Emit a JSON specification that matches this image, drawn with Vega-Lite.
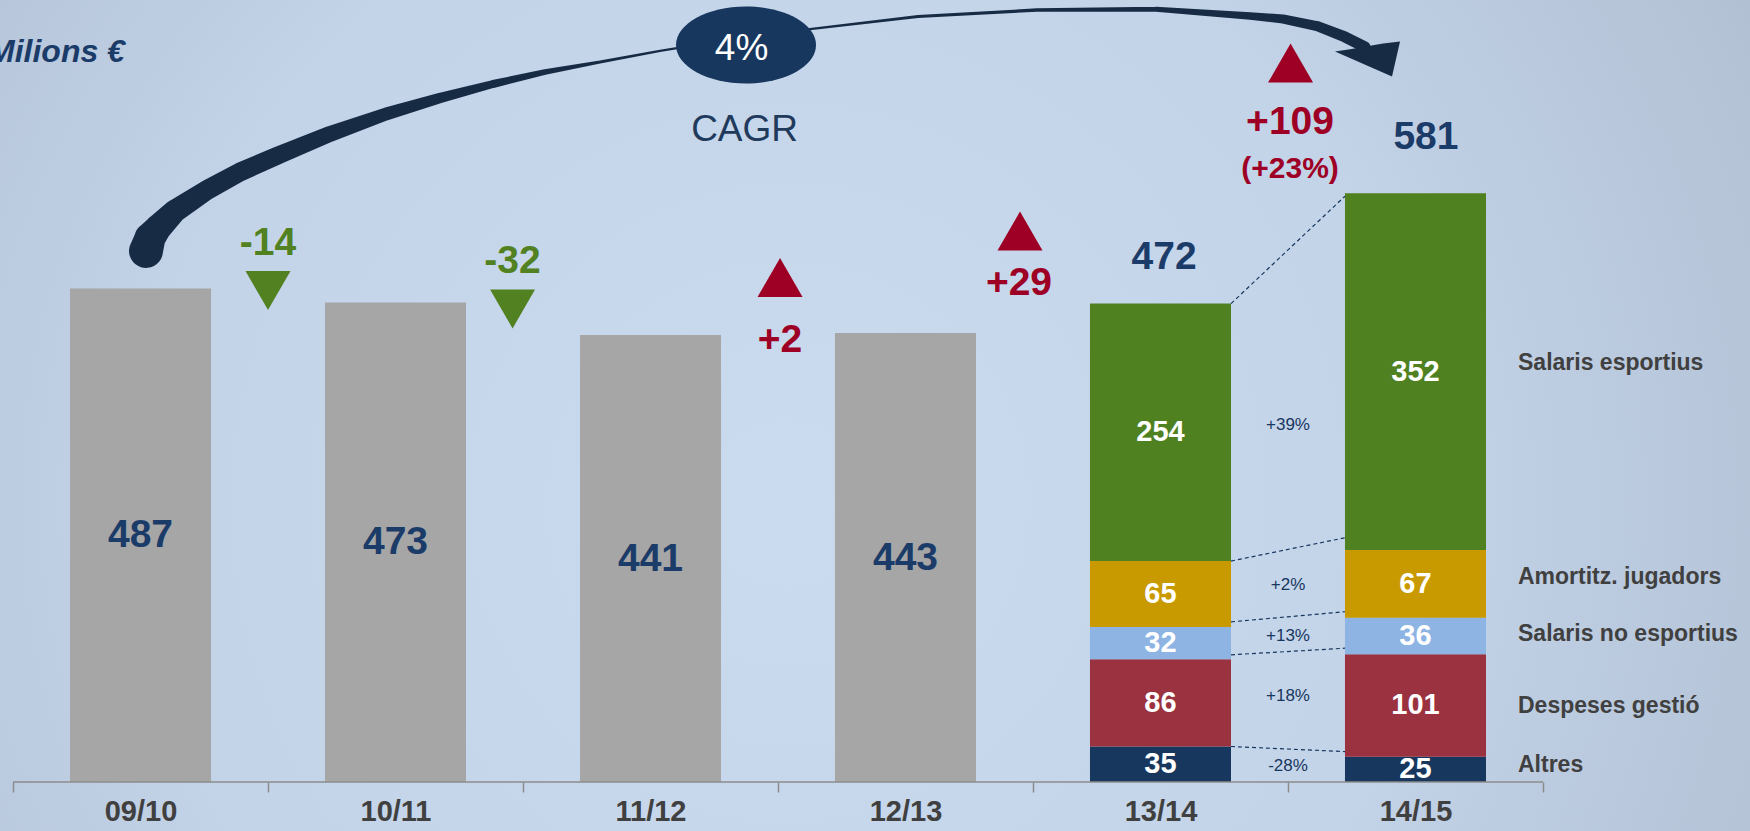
{
  "$schema": "https://vega.github.io/schema/vega-lite/v6.json",
  "width": 1750,
  "height": 831,
  "autosize": {"type": "none"},
  "padding": 0,
  "background": "#b8c7da",
  "config": {"view": {"stroke": null}, "font": "Liberation Sans"},
  "datasets": {
    "bars": [
      {"season": "09/10", "comp": "Total", "value": 487, "ord": 0},
      {"season": "10/11", "comp": "Total", "value": 473, "ord": 0},
      {"season": "11/12", "comp": "Total", "value": 441, "ord": 0},
      {"season": "12/13", "comp": "Total", "value": 443, "ord": 0},
      {"season": "13/14", "comp": "Altres", "value": 35, "ord": 1},
      {"season": "13/14", "comp": "Despeses gestió", "value": 86, "ord": 2},
      {"season": "13/14", "comp": "Salaris no esportius", "value": 32, "ord": 3},
      {"season": "13/14", "comp": "Amortitz. jugadors", "value": 65, "ord": 4},
      {"season": "13/14", "comp": "Salaris esportius", "value": 254, "ord": 5},
      {"season": "14/15", "comp": "Altres", "value": 25, "ord": 1},
      {"season": "14/15", "comp": "Despeses gestió", "value": 101, "ord": 2},
      {"season": "14/15", "comp": "Salaris no esportius", "value": 36, "ord": 3},
      {"season": "14/15", "comp": "Amortitz. jugadors", "value": 67, "ord": 4},
      {"season": "14/15", "comp": "Salaris esportius", "value": 352, "ord": 5}
    ],
    "arrow": [
      {"pos": 0.5216, "y": 524.0, "w": 1.0, "ord": 1},
      {"pos": 0.5373, "y": 536.8, "w": 0.912, "ord": 2},
      {"pos": 0.5686, "y": 546.6, "w": 0.794, "ord": 3},
      {"pos": 0.6353, "y": 563.4, "w": 0.676, "ord": 4},
      {"pos": 0.7608, "y": 584.1, "w": 0.588, "ord": 5},
      {"pos": 0.8902, "y": 601.9, "w": 0.559, "ord": 6},
      {"pos": 1.0431, "y": 618.6, "w": 0.529, "ord": 7},
      {"pos": 1.2431, "y": 639.4, "w": 0.471, "ord": 8},
      {"pos": 1.4627, "y": 659.1, "w": 0.382, "ord": 9},
      {"pos": 1.6745, "y": 674.9, "w": 0.309, "ord": 10},
      {"pos": 1.8824, "y": 688.7, "w": 0.235, "ord": 11},
      {"pos": 2.0863, "y": 700.5, "w": 0.162, "ord": 12},
      {"pos": 2.302, "y": 710.4, "w": 0.094, "ord": 13},
      {"pos": 2.5373, "y": 721.3, "w": 0.065, "ord": 14},
      {"pos": 2.8706, "y": 735.1, "w": 0.065, "ord": 15},
      {"pos": 3.1333, "y": 743.0, "w": 0.065, "ord": 16},
      {"pos": 3.549, "y": 755.3, "w": 0.082, "ord": 17},
      {"pos": 4.0157, "y": 761.7, "w": 0.1, "ord": 18},
      {"pos": 4.4824, "y": 762.5, "w": 0.147, "ord": 19},
      {"pos": 4.851, "y": 755.8, "w": 0.221, "ord": 20},
      {"pos": 4.9804, "y": 752.8, "w": 0.265, "ord": 21},
      {"pos": 5.1137, "y": 745.9, "w": 0.294, "ord": 22},
      {"pos": 5.2235, "y": 735.1, "w": 0.324, "ord": 23},
      {"pos": 5.302, "y": 725.2, "w": 0.324, "ord": 24}
    ],
    "arrowhead": [{"pos": 5.3118, "y": 713.3}],
    "ellipse": [{"pos": 2.8745, "y": 727.2}],
    "pct4": [{"pos": 2.857, "y": 723.7, "label": "4%"}],
    "cagr": [{"pos": 2.869, "y": 643.3, "label": "CAGR"}],
    "unit": [{"pos": -0.098, "y": 720.3, "label": "Milions €"}],
    "triangles": [
      {"pos": 1.0, "y": 485.0, "dir": "down"},
      {"pos": 1.959, "y": 466.7, "dir": "down"},
      {"pos": 3.008, "y": 497.8, "dir": "up"},
      {"pos": 3.949, "y": 543.7, "dir": "up"},
      {"pos": 5.01, "y": 709.4, "dir": "up"}
    ],
    "changes": [
      {"pos": 1.0, "y": 531.8, "label": "-14", "dir": "down"},
      {"pos": 1.959, "y": 514.1, "label": "-32", "dir": "down"},
      {"pos": 3.008, "y": 436.6, "label": "+2", "dir": "up"},
      {"pos": 3.945, "y": 492.4, "label": "+29", "dir": "up"},
      {"pos": 5.008, "y": 651.2, "label": "+109", "dir": "up"}
    ],
    "changepct": [{"pos": 5.008, "y": 604.6, "label": "(+23%)"}],
    "totals": [
      {"pos": 4.514, "y": 518.0, "label": "472"},
      {"pos": 5.541, "y": 636.4, "label": "581"}
    ],
    "connectors": [
      {"pos": 4.7765, "pos2": 5.2235, "y": 472, "y2": 578},
      {"pos": 4.7765, "pos2": 5.2235, "y": 218, "y2": 241},
      {"pos": 4.7765, "pos2": 5.2235, "y": 158, "y2": 168},
      {"pos": 4.7765, "pos2": 5.2235, "y": 125.5, "y2": 132},
      {"pos": 4.7765, "pos2": 5.2235, "y": 35, "y2": 30}
    ],
    "pcts": [
      {"pos": 5.0, "y": 352, "label": "+39%"},
      {"pos": 5.0, "y": 194.4, "label": "+2%"},
      {"pos": 5.0, "y": 144.5, "label": "+13%"},
      {"pos": 5.0, "y": 84.5, "label": "+18%"},
      {"pos": 5.0, "y": 15.8, "label": "-28%"}
    ],
    "legendlabels": [
      {"pos": 5.902, "y": 413.4, "label": "Salaris esportius"},
      {"pos": 5.902, "y": 202.3, "label": "Amortitz. jugadors"},
      {"pos": 5.902, "y": 146.0, "label": "Salaris no esportius"},
      {"pos": 5.902, "y": 75.0, "label": "Despeses gestió"},
      {"pos": 5.902, "y": 16.3, "label": "Altres"}
    ],
    "axisline": [{"pos": 0, "pos2": 6, "y": 0}]
  },
  "resolve": {"scale": {"x": "independent", "color": "independent", "shape": "independent", "size": "independent"}},
  "layer": [
    {
      "data": {"values": [{"bg": 1}]},
      "mark": {
        "type": "rect",
        "fill": {
          "gradient": "radial",
          "x1": 0.45, "y1": 0.55, "r1": 0,
          "x2": 0.45, "y2": 0.55, "r2": 0.8,
          "stops": [
            {"offset": 0, "color": "#cadbf0"},
            {"offset": 0.45, "color": "#c3d3e8"},
            {"offset": 0.75, "color": "#b3c2d5"},
            {"offset": 1, "color": "#9eabbd"}
          ]
        }
      },
      "encoding": {"x": {"value": 0}, "x2": {"value": "width"}, "y": {"value": 0}, "y2": {"value": "height"}}
    },
    {
      "data": {"name": "bars"},
      "encoding": {
        "x": {
          "field": "season", "type": "nominal", "sort": null,
          "scale": {"domain": ["09/10", "10/11", "11/12", "12/13", "13/14", "14/15"], "paddingInner": 0, "paddingOuter": 0.4314, "align": 0.0591},
          "axis": {
            "orient": "bottom", "offset": -49, "domain": false, "grid": false, "tickBand": "extent", "zindex": 1,
            "tickSize": 10, "tickColor": "#8c8c8c", "tickWidth": 1.5, "title": null, "labelAngle": 0,
            "labelFont": "Liberation Sans", "labelFontSize": 29, "labelFontWeight": "bold", "labelColor": "#404040", "labelPadding": 5
          }
        },
        "y": {"field": "value", "type": "quantitative", "stack": "zero", "scale": {"domain": [-48.35, 771.58], "nice": false, "zero": false}, "axis": null},
        "order": {"field": "ord", "type": "quantitative"}
      },
      "layer": [
        {
          "mark": {"type": "bar", "width": {"band": 0.553}},
          "encoding": {
            "color": {
              "field": "comp", "type": "nominal", "legend": null,
              "scale": {
                "domain": ["Total", "Altres", "Despeses gestió", "Salaris no esportius", "Amortitz. jugadors", "Salaris esportius"],
                "range": ["#a6a6a6", "#17375e", "#9b3240", "#8eb4e3", "#c99a00", "#4f8121"]
              }
            }
          }
        },
        {
          "transform": [{"filter": "datum.comp === 'Total'"}],
          "mark": {"type": "text", "font": "Liberation Sans", "fontSize": 39, "fontWeight": "bold", "color": "#1b3b68", "baseline": "middle"},
          "encoding": {
            "y": {"field": "value", "type": "quantitative", "stack": "zero", "bandPosition": 0.5, "scale": {"domain": [-48.35, 771.58], "nice": false, "zero": false}, "axis": null},
            "detail": {"field": "comp"},
            "text": {"field": "value", "type": "quantitative"}
          }
        },
        {
          "transform": [{"filter": "datum.comp !== 'Total'"}],
          "mark": {"type": "text", "font": "Liberation Sans", "fontSize": 29, "fontWeight": "bold", "color": "white", "baseline": "middle"},
          "encoding": {
            "y": {"field": "value", "type": "quantitative", "stack": "zero", "bandPosition": 0.5, "scale": {"domain": [-48.35, 771.58], "nice": false, "zero": false}, "axis": null},
            "detail": {"field": "comp"},
            "text": {"field": "value", "type": "quantitative"}
          }
        }
      ]
    },
    {
      "encoding": {
        "x": {"field": "pos", "type": "quantitative", "scale": {"domain": [-0.05098, 6.81176], "nice": false, "zero": false}, "axis": null},
        "y": {"field": "y", "type": "quantitative", "scale": {"domain": [-48.35, 771.58], "nice": false, "zero": false}, "axis": null}
      },
      "layer": [
        {
          "data": {"name": "axisline"},
          "mark": {"type": "rule", "color": "#8c8c8c", "strokeWidth": 1.5},
          "encoding": {"x2": {"field": "pos2"}}
        },
        {
          "data": {"name": "connectors"},
          "mark": {"type": "rule", "color": "#17375e", "strokeWidth": 1.2, "strokeDash": [4, 3]},
          "encoding": {"x2": {"field": "pos2"}, "y2": {"field": "y2"}}
        },
        {
          "data": {"name": "arrow"},
          "mark": {"type": "trail", "color": "#172b45"},
          "encoding": {
            "size": {"field": "w", "type": "quantitative", "scale": {"domain": [0, 1], "range": [0, 34]}, "legend": null},
            "order": {"field": "ord", "type": "quantitative"}
          }
        },
        {
          "data": {"name": "arrowhead"},
          "mark": {"type": "point", "shape": "M0.929,-0.5L0.7,0.5L-0.929,-0.214L-0.5,-0.28L0.443,-0.443Z", "size": 4900, "filled": true, "color": "#172b45", "opacity": 1, "strokeWidth": 0}
        },
        {
          "data": {"name": "ellipse"},
          "mark": {"type": "point", "shape": "M-1,0A1,0.55,0,1,1,1,0A1,0.55,0,1,1,-1,0Z", "size": 19600, "filled": true, "color": "#17375e", "opacity": 1, "strokeWidth": 0}
        },
        {
          "data": {"name": "pct4"},
          "mark": {"type": "text", "font": "Liberation Sans", "fontSize": 37, "color": "white", "baseline": "middle"},
          "encoding": {"text": {"field": "label"}}
        },
        {
          "data": {"name": "cagr"},
          "mark": {"type": "text", "font": "Liberation Sans", "fontSize": 37, "color": "#1f3a5b", "baseline": "middle"},
          "encoding": {"text": {"field": "label"}}
        },
        {
          "data": {"name": "unit"},
          "mark": {"type": "text", "font": "Liberation Sans", "fontSize": 32, "fontWeight": "bold", "fontStyle": "italic", "color": "#1b3b68", "baseline": "middle", "align": "left"},
          "encoding": {"text": {"field": "label"}}
        },
        {
          "data": {"name": "triangles"},
          "mark": {"type": "point", "size": 2025, "filled": true, "opacity": 1, "strokeWidth": 0},
          "encoding": {
            "shape": {"field": "dir", "type": "nominal", "scale": {"domain": ["down", "up"], "range": ["triangle-down", "triangle-up"]}, "legend": null},
            "color": {"field": "dir", "type": "nominal", "scale": {"domain": ["down", "up"], "range": ["#518121", "#9e0025"]}, "legend": null}
          }
        },
        {
          "data": {"name": "changes"},
          "mark": {"type": "text", "font": "Liberation Sans", "fontSize": 39, "fontWeight": "bold", "baseline": "middle"},
          "encoding": {
            "text": {"field": "label"},
            "color": {"field": "dir", "type": "nominal", "scale": {"domain": ["down", "up"], "range": ["#518121", "#9e0025"]}, "legend": null}
          }
        },
        {
          "data": {"name": "changepct"},
          "mark": {"type": "text", "font": "Liberation Sans", "fontSize": 30, "fontWeight": "bold", "baseline": "middle", "color": "#9e0025"},
          "encoding": {"text": {"field": "label"}}
        },
        {
          "data": {"name": "totals"},
          "mark": {"type": "text", "font": "Liberation Sans", "fontSize": 39, "fontWeight": "bold", "baseline": "middle", "color": "#1b3b68"},
          "encoding": {"text": {"field": "label"}}
        },
        {
          "data": {"name": "pcts"},
          "mark": {"type": "text", "font": "Liberation Sans", "fontSize": 17, "baseline": "middle", "color": "#17375e"},
          "encoding": {"text": {"field": "label"}}
        },
        {
          "data": {"name": "legendlabels"},
          "mark": {"type": "text", "font": "Liberation Sans", "fontSize": 23, "fontWeight": "bold", "baseline": "middle", "align": "left", "color": "#404040"},
          "encoding": {"text": {"field": "label"}}
        }
      ]
    }
  ]
}
